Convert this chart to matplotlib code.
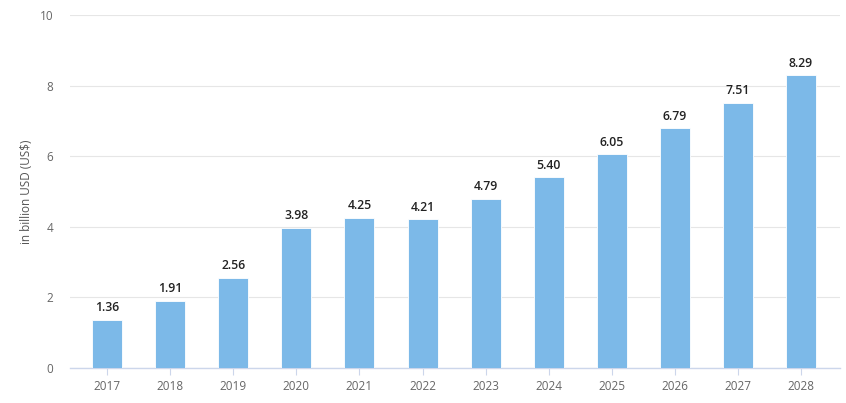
import matplotlib
matplotlib.use("Agg")
import matplotlib.pyplot as plt

years = ["2017", "2018", "2019", "2020", "2021", "2022", "2023", "2024", "2025", "2026", "2027", "2028"]
values = [1.36, 1.91, 2.56, 3.98, 4.25, 4.21, 4.79, 5.40, 6.05, 6.79, 7.51, 8.29]
labels = ["1.36", "1.91", "2.56", "3.98", "4.25", "4.21", "4.79", "5.40", "6.05", "6.79", "7.51", "8.29"]
yticks = [0, 2, 4, 6, 8, 10]

plt.rcParams['font.family'] = ['Open Sans', 'DejaVu Sans']

fig = plt.figure(figsize=(8.46, 4.03), dpi=100)
ax = fig.add_axes([70/846, 35/403, 770/846, 353/403])

x = list(range(len(years)))
ax.bar(x, values, width=0.475, color="#7cb9e8", zorder=3, edgecolor="white", linewidth=0.6)
for xi, v, lab in zip(x, values, labels):
    ax.annotate(lab, (xi, v), xytext=(0, 4), textcoords="offset points",
                ha="center", va="bottom", fontsize=8.8, color="#222222", fontweight="semibold")

ax.set_xlim(-0.59, len(years) - 1 + 0.62)
ax.set_ylim(0, 10)
ax.set_yticks(yticks)
ax.set_yticklabels([str(t) for t in yticks])
ax.set_xticks(x)
ax.set_xticklabels(years)
ax.grid(axis="y", color="#e6e6e6", linewidth=0.8, zorder=0)
for s in ["top", "right", "left"]:
    ax.spines[s].set_visible(False)
ax.spines["bottom"].set_color("#ccd6eb")
ax.spines["bottom"].set_linewidth(1)
ax.tick_params(axis="y", length=0, pad=12, labelsize=8.5, labelcolor="#666666")
ax.tick_params(axis="x", length=5, color="#ccd6eb", pad=4, labelsize=8.5, labelcolor="#666666")
ax.set_ylabel("in billion USD (US$)", fontsize=8.5, color="#555555", labelpad=5)

fig.savefig("out.png", dpi=100)
